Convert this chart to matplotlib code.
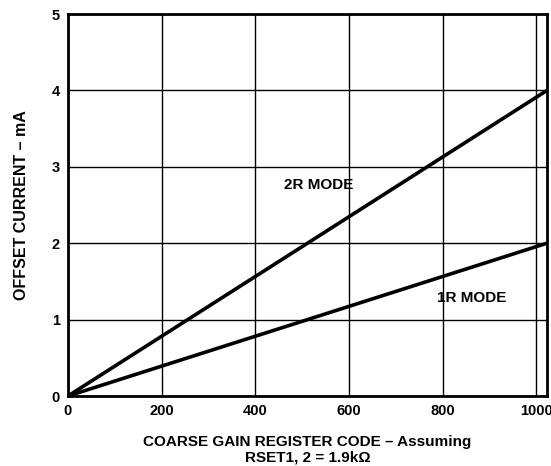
import matplotlib
matplotlib.use("Agg")
import matplotlib.pyplot as plt
import numpy as np

plt.rcParams['font.family'] = ['Liberation Sans', 'DejaVu Sans']
plt.rcParams['font.weight'] = 'bold'

# Offset current vs coarse gain register code
codes = [0, 1023]
current_2r = [0.0, 4.0]
current_1r = [0.0, 2.0]
x_ticks = [0, 200, 400, 600, 800, 1000]
y_ticks = [0, 1, 2, 3, 4, 5]

fig = plt.figure(figsize=(5.51, 4.66), dpi=100)
ax = fig.add_axes([68/551, 1 - 396/466, (547-68)/551, (396-14)/466])

ax.plot(codes, current_2r, color='black', lw=2.6, solid_capstyle='butt', zorder=3)
ax.plot(codes, current_1r, color='black', lw=2.6, solid_capstyle='butt', zorder=3)

ax.set_xlim(0, 1023)
ax.set_ylim(0, 5)
ax.set_xticks(x_ticks)
ax.set_yticks(y_ticks)
ax.grid(True, color='black', lw=1.0)
ax.tick_params(length=0, labelsize=10.5, pad=6)
for lbl in ax.get_xticklabels() + ax.get_yticklabels():
    lbl.set_fontweight('bold')
for s in ax.spines.values():
    s.set_linewidth(2.0)

ax.text(536, 2.76, '2R MODE', ha='center', va='center', fontsize=11, fontweight='bold')
ax.text(863, 1.28, '1R MODE', ha='center', va='center', fontsize=11, fontweight='bold')

ax.set_xlabel('COARSE GAIN REGISTER CODE – Assuming\nRSET1, 2 = 1.9kΩ',
              fontsize=11, fontweight='bold', labelpad=12, linespacing=1.1)
ax.set_ylabel('OFFSET CURRENT – mA', fontsize=11.5, fontweight='bold', labelpad=16)

fig.savefig('out.png', dpi=100)
